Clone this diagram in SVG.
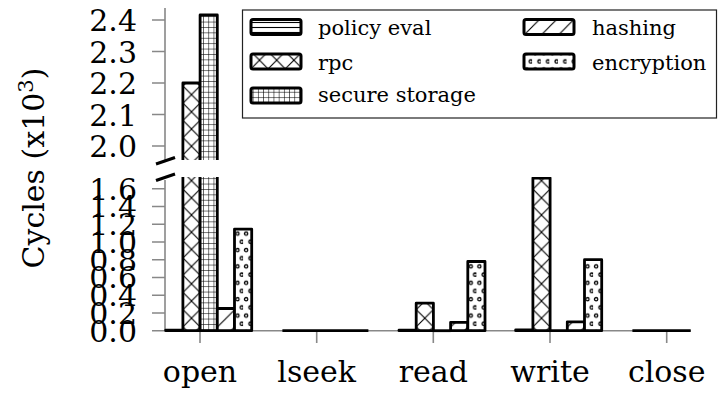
<svg xmlns="http://www.w3.org/2000/svg" width="718" height="395" viewBox="0 0 718 395">
<style>
.ax{stroke:#888;stroke-width:1.6;fill:none}
.bar{stroke:#000;stroke-width:2.8;stroke-linejoin:round}
.zero{stroke:#000;stroke-width:2.8;fill:none}
.t{font-family:"DejaVu Serif",serif;font-size:30px;fill:#000}
.ty{text-anchor:end}
.tx{text-anchor:middle}
.lg{font-family:"DejaVu Serif",serif;font-size:21px;fill:#000}
.sw{stroke:#000;stroke-width:3;stroke-linejoin:round}
.brk{stroke:#000;stroke-width:3}
.pl{stroke:#000;stroke-width:1.1;fill:none}
</style>
<defs>
<pattern id="pH" patternUnits="userSpaceOnUse" width="6" height="5"><rect width="6" height="5" fill="#fff"/><line class="pl" x1="0" y1="2.5" x2="6" y2="2.5"/></pattern>
<pattern id="pX" patternUnits="userSpaceOnUse" x="-17.1" y="0" width="17.2" height="17.2"><rect width="17.2" height="17.2" fill="#fff"/><line class="pl" x1="0" y1="0" x2="17.2" y2="17.2"/><line class="pl" x1="0" y1="17.2" x2="17.2" y2="0"/></pattern>
<pattern id="pG" patternUnits="userSpaceOnUse" x="3.1" y="0" width="5.2" height="5.4"><rect width="5.2" height="5.4" fill="#fff"/><line class="pl" x1="0" y1="0" x2="0" y2="5.4"/><line class="pl" x1="0" y1="0" x2="5.2" y2="0"/></pattern>
<pattern id="pN" patternUnits="userSpaceOnUse" x="17.3" y="0.3" width="17.2" height="17.2"><rect width="17.2" height="17.2" fill="#fff"/><line class="pl" x1="-1" y1="18.2" x2="18.2" y2="-1"/><line class="pl" x1="-1" y1="1" x2="1" y2="-1"/><line class="pl" x1="16.2" y1="18.2" x2="18.2" y2="16.2"/></pattern>
<pattern id="pD" patternUnits="userSpaceOnUse" x="34.5" y="0" width="8.6" height="16.4"><rect width="8.6" height="16.4" fill="#fff"/><circle cx="3" cy="4" r="1.6" fill="#fff" stroke="#000" stroke-width="1.3"/><circle cx="7.3" cy="12.2" r="1.6" fill="#fff" stroke="#000" stroke-width="1.3"/></pattern>
<clipPath id="clipU"><rect x="165" y="0" width="526" height="160"/></clipPath>
<clipPath id="clipL"><rect x="150" y="177" width="540.7" height="170"/></clipPath>
</defs>
<rect width="718" height="395" fill="#fff"/>

<g id="axes">
<path class="ax" d="M165 8V160M152 20H165M152 51.5H165M152 83H165M152 114.5H165M152 146H165"/>
<path class="ax" d="M165 180V330.7H690.7M152 330.7H165M152 312.95H165M152 295.2H165M152 277.45H165M152 259.7H165M152 241.95H165M152 224.2H165M152 206.45H165M152 188.7H165"/>
<path class="ax" d="M200 330.7V343M316.7 330.7V343M433.3 330.7V343M550 330.7V343M666.7 330.7V343"/>
</g>

<g id="ticklabels" class="t ty">
<text x="137" y="31">2.4</text>
<text x="137" y="62.5">2.3</text>
<text x="137" y="94">2.2</text>
<text x="137" y="125.5">2.1</text>
<text x="137" y="157">2.0</text>
<text x="137" y="199.7">1.6</text>
<text x="137" y="217.45">1.4</text>
<text x="137" y="235.2">1.2</text>
<text x="137" y="252.95">1.0</text>
<text x="137" y="270.7">0.8</text>
<text x="137" y="288.45">0.6</text>
<text x="137" y="306.2">0.4</text>
<text x="137" y="323.95">0.2</text>
<text x="137" y="341.7">0.0</text>
</g>

<g id="upper-bars" clip-path="url(#clipU)">
<g transform="translate(200,0)">
<path class="bar" fill="url(#pX)" d="M-17.1 200V83H0.1V200Z"/>
<path class="bar" fill="url(#pG)" d="M0.1 200V15H17.3V200Z"/>
</g>
</g>

<g id="lower-bars" clip-path="url(#clipL)">
<g id="grp-open" transform="translate(200,0)">
<path class="bar" fill="url(#pH)" d="M-34.3 330.7V330.2H-17.1V330.7Z"/>
<path class="bar" fill="url(#pX)" d="M-17.1 330.7V170H0.1V330.7Z"/>
<path class="bar" fill="url(#pG)" d="M0.1 330.7V170H17.3V330.7Z"/>
<path class="bar" fill="url(#pN)" d="M17.3 330.7V308.5H34.5V330.7Z"/>
<path class="bar" fill="url(#pD)" d="M34.5 330.7V229.1H51.7V330.7Z"/>
</g>
<g id="grp-lseek" transform="translate(316.7,0)">
<path class="zero" d="M-34.3 330.7H51.7"/>
</g>
<g id="grp-read" transform="translate(433.3,0)">
<path class="bar" fill="url(#pH)" d="M-34.3 330.7V330.2H-17.1V330.7Z"/>
<path class="bar" fill="url(#pX)" d="M-17.1 330.7V303.2H0.1V330.7Z"/>
<path class="zero" d="M0.1 330.7H17.3"/>
<path class="bar" fill="url(#pN)" d="M17.3 330.7V322.3H34.5V330.7Z"/>
<path class="bar" fill="url(#pD)" d="M34.5 330.7V261.5H51.7V330.7Z"/>
</g>
<g id="grp-write" transform="translate(550,0)">
<path class="bar" fill="url(#pH)" d="M-34.3 330.7V329.8H-17.1V330.7Z"/>
<path class="bar" fill="url(#pX)" d="M-17.1 330.7V178H0.1V330.7Z"/>
<path class="zero" d="M0.1 330.7H17.3"/>
<path class="bar" fill="url(#pN)" d="M17.3 330.7V321.8H34.5V330.7Z"/>
<path class="bar" fill="url(#pD)" d="M34.5 330.7V259.7H51.7V330.7Z"/>
</g>
<g id="grp-close" transform="translate(666.7,0)">
<path class="zero" d="M-34.3 330.7H51.7"/>
</g>
</g>

<g id="break">
<line class="brk" x1="156" y1="164" x2="175" y2="157.5"/>
<line class="brk" x1="156" y1="180.5" x2="175" y2="174"/>
</g>

<g id="xlabels" class="t tx">
<text x="200" y="382">open</text>
<text x="316.7" y="382">lseek</text>
<text x="433.3" y="382">read</text>
<text x="550" y="382">write</text>
<text x="666.7" y="382">close</text>
</g>

<text id="ylabel" class="t tx" transform="translate(44,168) rotate(-90)">Cycles (x10<tspan font-size="21" dy="-11">3</tspan><tspan dy="11">)</tspan></text>

<g id="legend">
<rect x="242.5" y="10" width="474" height="108" fill="#fff" stroke="#222" stroke-width="1.2"/>
<g id="leg-policy"><rect class="sw" x="251" y="19.5" width="50" height="15" rx="2" fill="url(#pH)"/><text class="lg" x="318" y="35">policy eval</text></g>
<g id="leg-rpc" transform="translate(268,0)"><rect class="sw" x="-17" y="54" width="50" height="15" rx="2" fill="url(#pX)"/><text class="lg" x="50" y="69.5">rpc</text></g>
<g id="leg-storage"><rect class="sw" x="251" y="88" width="50" height="15" rx="2" fill="url(#pG)"/><text class="lg" x="318" y="102">secure storage</text></g>
<g id="leg-hashing" transform="translate(507,0)"><rect class="sw" x="17" y="19.5" width="50" height="15" rx="2" fill="url(#pN)"/><text class="lg" x="85" y="35">hashing</text></g>
<g id="leg-encryption" transform="translate(489,0)"><rect class="sw" x="35" y="54" width="50" height="15" rx="2" fill="url(#pD)"/><text class="lg" x="103" y="69.5">encryption</text></g>
</g>
</svg>
